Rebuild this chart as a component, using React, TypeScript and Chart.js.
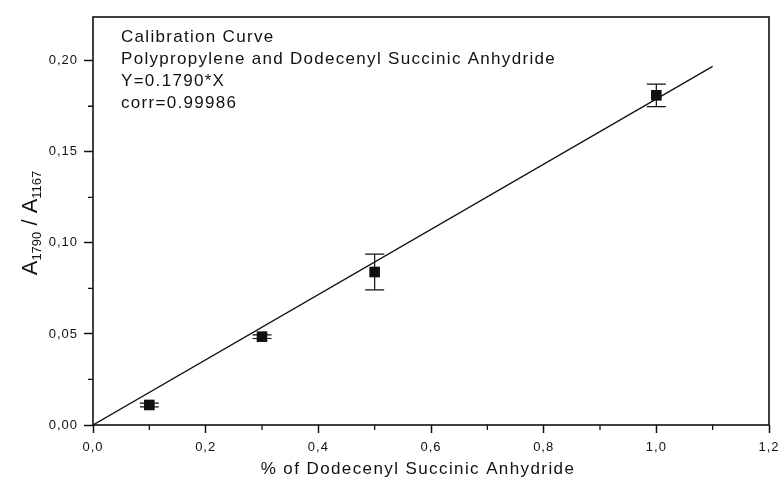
import React, { useEffect, useRef } from 'react';
import { Chart, registerables } from 'chart.js';

Chart.register(...registerables);

// Measured data (x = % DDSA, y = A1790/A1167) with vertical error bars
const xValues = [0.1, 0.3, 0.5, 1.0];
const yValues = [0.011, 0.0485, 0.084, 0.181];
const yErrors = [0.001, 0.001, 0.0098, 0.0062];

// Regression line Y = 0.1790 * X, drawn from its two end points
const fitX = [0, 1.1];
const fitY = [0, 0.1969];

// Axis settings / tick labels
const xMin = 0;
const xMax = 1.2;
const xStep = 0.2;
const yMin = 0;
const yMax = 0.224;
const yStep = 0.05;
const xMinorTicks = [0.1, 0.3, 0.5, 0.7, 0.9, 1.1];
const yMinorTicks = [0.025, 0.075, 0.125, 0.175];

const annotationLines = [
  'Calibration Curve',
  'Polypropylene and Dodecenyl Succinic Anhydride',
  'Y=0.1790*X',
  'corr=0.99986',
];
const xTitle = '% of Dodecenyl Succinic Anhydride';
const yTitleParts: [string, boolean][] = [
  ['A', false],
  ['1790', true],
  [' / A', false],
  ['1167', true],
];

const FONT = '"Liberation Sans", Arial, sans-serif';

const decorPlugin = {
  id: 'decor',
  beforeDraw(chart: any) {
    chart.ctx.letterSpacing = '1px';
  },
  beforeDatasetsDraw(chart: any) {
    const ctx = chart.ctx;
    const xs = chart.scales.x;
    const ys = chart.scales.y;
    ctx.save();
    ctx.strokeStyle = '#111';
    ctx.lineWidth = 1.2;
    for (let i = 0; i < xValues.length; i++) {
      const px = xs.getPixelForValue(xValues[i]);
      const top = ys.getPixelForValue(yValues[i] + yErrors[i]);
      const bot = ys.getPixelForValue(yValues[i] - yErrors[i]);
      ctx.beginPath();
      ctx.moveTo(px, top);
      ctx.lineTo(px, bot);
      ctx.moveTo(px - 9.5, top);
      ctx.lineTo(px + 9.5, top);
      ctx.moveTo(px - 9.5, bot);
      ctx.lineTo(px + 9.5, bot);
      ctx.stroke();
    }
    ctx.restore();
  },
  afterDraw(chart: any) {
    const ctx = chart.ctx;
    const a = chart.chartArea;
    const xs = chart.scales.x;
    const ys = chart.scales.y;
    ctx.save();
    // frame
    ctx.strokeStyle = '#111';
    ctx.lineWidth = 1.6;
    ctx.strokeRect(a.left, a.top, a.right - a.left, a.bottom - a.top);
    // minor ticks
    ctx.lineWidth = 1.3;
    ctx.beginPath();
    for (const v of xMinorTicks) {
      const px = xs.getPixelForValue(v);
      ctx.moveTo(px, a.bottom);
      ctx.lineTo(px, a.bottom + 5);
    }
    for (const v of yMinorTicks) {
      const py = ys.getPixelForValue(v);
      ctx.moveTo(a.left, py);
      ctx.lineTo(a.left - 5, py);
    }
    ctx.stroke();

    ctx.fillStyle = '#111';
    // annotation
    ctx.letterSpacing = '1.3px';
    ctx.font = `17px ${FONT}`;
    ctx.textAlign = 'left';
    ctx.textBaseline = 'alphabetic';
    annotationLines.forEach((t, i) => {
      ctx.fillText(t, a.left + 28, a.top + 25 + i * 22);
    });

    // x title
    ctx.letterSpacing = '1.4px';
    ctx.font = `17px ${FONT}`;
    ctx.textAlign = 'center';
    ctx.fillText(xTitle, 418, a.bottom + 49);

    // y title (rotated, with subscripts)
    ctx.letterSpacing = '0px';
    ctx.translate(37, (a.top + a.bottom) / 2 + 2);
    ctx.rotate(-Math.PI / 2);
    const big = `22px ${FONT}`;
    const small = `13px ${FONT}`;
    let total = 0;
    for (const [t, sub] of yTitleParts) {
      ctx.font = sub ? small : big;
      total += ctx.measureText(t).width;
    }
    let cx = -total / 2;
    ctx.textAlign = 'left';
    for (const [t, sub] of yTitleParts) {
      ctx.font = sub ? small : big;
      ctx.fillText(t, cx, sub ? 4 : 0);
      cx += ctx.measureText(t).width;
    }
    ctx.restore();
  },
};

export default function App() {
  const ref = useRef<HTMLCanvasElement>(null);
  useEffect(() => {
    if (!ref.current) return;
    const chart = new Chart(ref.current, {
      type: 'scatter',
      data: {
        datasets: [
          {
            label: 'fit',
            data: fitX.map((x, i) => ({ x, y: fitY[i] })),
            showLine: true,
            borderColor: '#111',
            borderWidth: 1.3,
            pointRadius: 0,
            fill: false,
          },
          {
            label: 'data',
            data: xValues.map((x, i) => ({ x, y: yValues[i] })),
            pointStyle: 'rect',
            pointRadius: 7.5,
            backgroundColor: '#111',
            borderColor: '#111',
            borderWidth: 0,
          },
        ],
      },
      options: {
        animation: false,
        responsive: false,
        maintainAspectRatio: false,
        devicePixelRatio: 1,
        layout: { padding: { top: 17, right: 12, left: 0, bottom: 0 } },
        plugins: { legend: { display: false }, tooltip: { enabled: false }, title: { display: false } },
        scales: {
          x: {
            type: 'linear',
            min: xMin,
            max: xMax,
            border: { display: false },
            grid: { drawOnChartArea: false, drawTicks: true, tickLength: 8, tickWidth: 1.5, tickColor: '#111' },
            ticks: {
              stepSize: xStep,
              includeBounds: false,
              color: '#111',
              padding: 7,
              maxRotation: 0,
              font: { family: FONT, size: 13 },
              callback: (v: any) => Number(v).toFixed(1).replace('.', ','),
            },
            afterFit: (s: any) => {
              s.height = 52;
              s.paddingLeft = 0;
              s.paddingRight = 0;
            },
          },
          y: {
            type: 'linear',
            min: yMin,
            max: yMax,
            border: { display: false },
            grid: { drawOnChartArea: false, drawTicks: true, tickLength: 9, tickWidth: 1.5, tickColor: '#111' },
            ticks: {
              stepSize: yStep,
              includeBounds: false,
              color: '#111',
              padding: 6,
              font: { family: FONT, size: 13 },
              callback: (v: any) => Number(v).toFixed(2).replace('.', ','),
            },
            afterFit: (s: any) => {
              s.width = 93;
              s.paddingTop = 0;
              s.paddingBottom = 0;
            },
          },
        },
      },
      plugins: [decorPlugin],
    });
    return () => chart.destroy();
  }, []);
  return (
    <div style={{ position: 'fixed', left: 0, top: 0, width: 781, height: 477, background: '#fff' }}>
      <canvas ref={ref} width={781} height={477} style={{ width: 781, height: 477 }} />
    </div>
  );
}
